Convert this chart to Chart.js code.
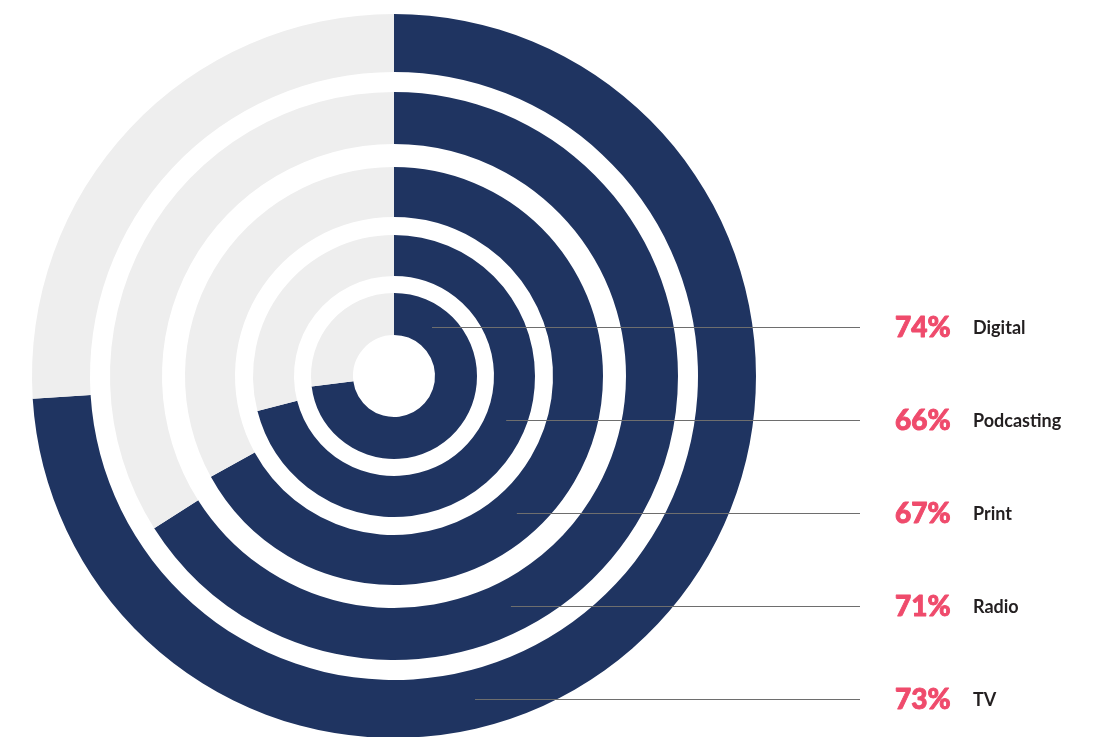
<!DOCTYPE html>
<html>
<head>
<meta charset="utf-8">
<title>Media share</title>
<script src="https://cdn.jsdelivr.net/npm/chart.js@4/dist/chart.umd.min.js"></script>
<style>
  html, body { margin: 0; padding: 0; background: #fff; overflow: hidden; }
  #wrap { position: absolute; left: 0; top: 0; width: 1103px; height: 752px; }
</style>
</head>
<body>
<div id="wrap"><canvas id="rings"></canvas></div>
<script>
  // Rings are listed from the outside in
  const categories = ['Digital', 'Podcasting', 'Print', 'Radio', 'TV'];
  const shares = [74, 66, 67, 71, 73];

  // Relative thickness of each ring and of the white gaps between them
  const ringWeights = [58, 52, 50, 41, 42];
  const gapWeights = [20, 23, 18, 17];

  const NAVY = '#1f3461';
  const GREY = '#eeeeee';
  const PINK = '#ef4b6c';
  const INK = '#231f20';

  const LABEL_TOP = 327;
  const LABEL_STEP = 93;
  const LINE_END = 860;
  const PCT_X = 895;
  const NAME_X = 973;

  const datasets = [];
  const ringIndex = [];
  categories.forEach((name, i) => {
    ringIndex.push(datasets.length);
    datasets.push({
      label: name,
      data: [shares[i], 100 - shares[i]],
      backgroundColor: [NAVY, GREY],
      borderWidth: 0,
      weight: ringWeights[i]
    });
    if (i < gapWeights.length) {
      // empty band so the rings sit apart
      datasets.push({
        label: '',
        data: [1],
        backgroundColor: 'rgba(0,0,0,0)',
        borderWidth: 0,
        weight: gapWeights[i]
      });
    }
  });

  // leader lines run from the inner ring outwards, one per label row
  const labelPlugin = {
    id: 'ringLabels',
    afterDraw(chart) {
      const ctx = chart.ctx;
      const n = categories.length;
      ctx.save();
      for (let i = 0; i < n; i++) {
        const y = LABEL_TOP + i * LABEL_STEP;
        const arc = chart.getDatasetMeta(ringIndex[n - 1 - i]).data[0];
        const rMid = (arc.innerRadius + arc.outerRadius) / 2;
        const dy = y - arc.y;
        const x0 = arc.x + Math.sqrt(Math.max(rMid * rMid - dy * dy, 0));

        ctx.strokeStyle = '#6e6e6e';
        ctx.lineWidth = 1;
        ctx.beginPath();
        ctx.moveTo(x0, y + 0.5);
        ctx.lineTo(LINE_END, y + 0.5);
        ctx.stroke();

        ctx.textAlign = 'left';
        ctx.textBaseline = 'alphabetic';
        // thin stroke over the fill thickens the digits a little
        ctx.fillStyle = PINK;
        ctx.strokeStyle = PINK;
        ctx.lineWidth = 0.9;
        ctx.lineJoin = 'round';
        ctx.font = '900 28px Lato';
        ctx.fillText(shares[i] + '%', PCT_X, y + 10);
        ctx.strokeText(shares[i] + '%', PCT_X, y + 10);

        ctx.fillStyle = INK;
        ctx.font = 'bold 18px Lato';
        ctx.fillText(categories[i], NAME_X, y + 6.5);
      }
      ctx.restore();
    }
  };

  const chart = new Chart(document.getElementById('rings'), {
    type: 'doughnut',
    data: {
      labels: ['share', 'rest'],
      datasets: datasets
    },
    options: {
      responsive: true,
      maintainAspectRatio: false,
      animation: false,
      events: [],
      cutout: 41,
      layout: {
        padding: { left: 32, right: 347, top: 14, bottom: 14 }
      },
      plugins: {
        legend: { display: false },
        tooltip: { enabled: false }
      }
    },
    plugins: [labelPlugin]
  });
</script>
</body>
</html>
